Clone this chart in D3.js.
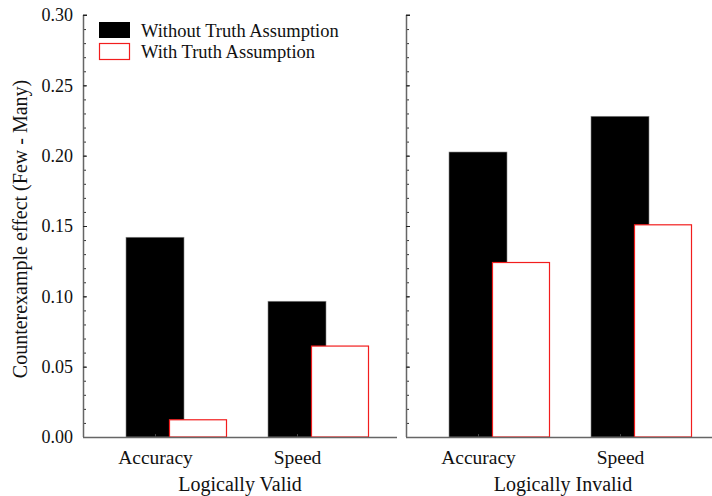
<!DOCTYPE html>
<html>
<head>
<meta charset="utf-8">
<script src="https://cdn.jsdelivr.net/npm/d3@7"></script>
<style>
  body { margin: 0; background: #fff; }
  svg text { font-family: "Liberation Serif", "Times New Roman", serif !important; fill: #111; }
</style>
</head>
<body>
<div id="chart"></div>
<script>
// Data
const panels = ["Logically Valid", "Logically Invalid"];
const categories = ["Accuracy", "Speed"];
const withoutTruth = [[0.142, 0.0965], [0.2026, 0.228]];
const withTruth = [[0.0126, 0.065], [0.1244, 0.1512]];
const seriesNames = ["Without Truth Assumption", "With Truth Assumption"];
const yTicks = [0, 0.05, 0.10, 0.15, 0.20, 0.25, 0.30];

// Set up dimensions
const W = 712, H = 496;
const panelLeft = [83, 406];
const panelWidth = 314;
const axisColor = "#666";
const serif = "Liberation Serif";

const svg = d3.select("#chart")
    .append("svg")
    .attr("width", W)
    .attr("height", H);

// Scales
const yScale = d3.scaleLinear().domain([0, 0.30]).range([437, 15]);
const xScale = d3.scalePoint().domain(categories).range([72, 214]);
const barW = 58;
const shift = 43;

panels.forEach((name, p) => {
    const g = svg.append("g").attr("transform", `translate(${panelLeft[p]},0)`);

    // Bars: black first, then red outlined on top
    g.selectAll(".black")
        .data(categories)
        .enter()
        .append("rect")
        .attr("x", d => xScale(d) - barW / 2)
        .attr("y", (d, i) => yScale(withoutTruth[p][i]))
        .attr("width", barW)
        .attr("height", (d, i) => yScale(0) - yScale(withoutTruth[p][i]))
        .attr("fill", "#000")
        .attr("stroke", "#888")
        .attr("stroke-width", 0.6);

    g.selectAll(".red")
        .data(categories)
        .enter()
        .append("rect")
        .attr("x", d => xScale(d) - barW / 2 + shift + 0.5)
        .attr("y", (d, i) => yScale(withTruth[p][i]) + 0.5)
        .attr("width", barW - 1)
        .attr("height", (d, i) => yScale(0) - yScale(withTruth[p][i]) - 0.5)
        .attr("fill", "#fff")
        .attr("stroke", "#f21d1d")
        .attr("stroke-width", 1.2);

    // Minor ticks (inside)
    const minor = g.append("g")
        .call(d3.axisRight(yScale).tickValues(d3.range(0, 0.3001, 0.01)).tickSize(3).tickFormat(""));
    minor.select(".domain").remove();
    minor.selectAll("line").attr("stroke", "#333");

    // Major ticks (inside)
    const major = g.append("g")
        .call(d3.axisRight(yScale).tickValues(yTicks).tickSize(4).tickSizeOuter(0).tickFormat(""));
    major.select(".domain").attr("stroke", axisColor).attr("stroke-width", 1.5)
        .attr("d", `M0.5,${yScale(0.30)}V${yScale(0)}`);
    major.selectAll("line").attr("stroke", "#222");
    g.append("line")
        .attr("x1", 0).attr("x2", 4)
        .attr("y1", yScale(0.30)).attr("y2", yScale(0.30))
        .attr("stroke", "#222");

    // Tick labels on the left panel only
    if (p === 0) {
        const lab = g.append("g")
            .call(d3.axisLeft(yScale).tickValues(yTicks).tickSize(0).tickPadding(10)
                .tickFormat(d3.format(".2f")))
            .attr("font-family", serif)
            .attr("font-size", 18);
        lab.select(".domain").remove();
    }

    // X axis baseline
    const xAx = g.append("g")
        .attr("transform", `translate(0,${yScale(0)})`)
        .call(d3.axisBottom(xScale).tickSize(-3).tickPadding(13))
        .attr("font-family", serif)
        .attr("font-size", 19.5);
    xAx.select(".domain").attr("stroke", axisColor).attr("stroke-width", 1.5)
        .attr("d", `M0,0.5H${panelWidth}`);
    xAx.selectAll("line").attr("stroke", "#444");

    // Panel title
    g.append("text")
        .attr("x", panelWidth / 2)
        .attr("y", 491)
        .attr("text-anchor", "middle")
        .attr("font-size", 20)
        .text(name);
});

// Y-axis title
svg.append("text")
    .attr("transform", "translate(27,229) rotate(-90)")
    .attr("text-anchor", "middle")
    .attr("font-size", 20)
    .text("Counterexample effect (Few - Many)");

// Legend
const legend = svg.append("g").attr("transform", "translate(99,22)");
seriesNames.forEach((s, i) => {
    legend.append("rect")
        .attr("x", i ? 0.5 : 0)
        .attr("y", i * 21 + (i ? 0.5 : 0))
        .attr("width", i ? 30 : 31)
        .attr("height", 16)
        .attr("fill", i ? "#fff" : "#000")
        .attr("stroke", i ? "#f21d1d" : "none")
        .attr("stroke-width", 1.2);
    legend.append("text")
        .attr("x", 42)
        .attr("y", i * 21 + 15)
        .attr("font-size", 18.5)
        .text(s);
});
</script>
</body>
</html>
